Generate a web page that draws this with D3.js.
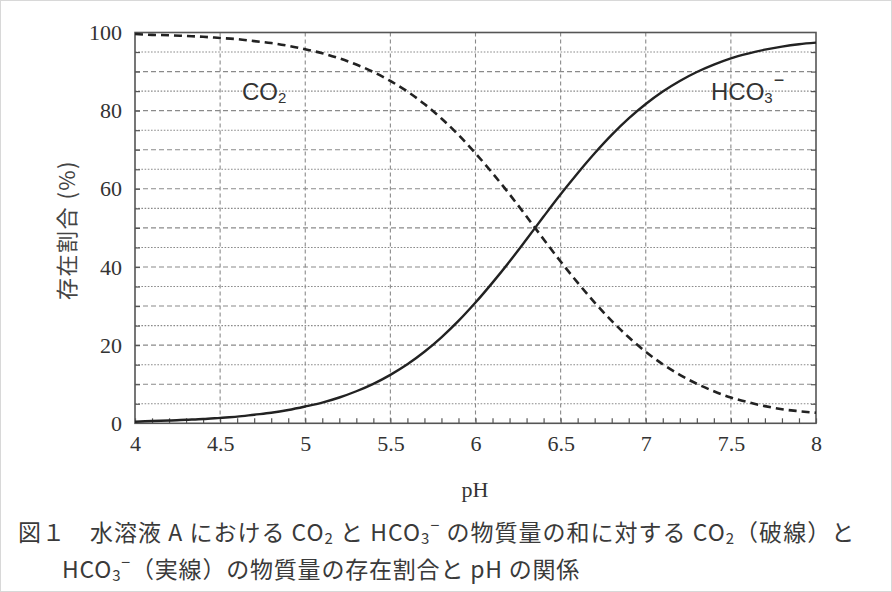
<!DOCTYPE html>
<html><head><meta charset="utf-8">
<script src="https://cdn.jsdelivr.net/npm/d3@7"></script>
<style>
html,body{margin:0;padding:0;background:#fff;}
svg{display:block;}
</style></head>
<body>
<script>
// ---- data ----
const pHValues = [4.0,4.1,4.2,4.3,4.4,4.5,4.6,4.7,4.8,4.9,5.0,5.1,5.2,5.3,5.4,5.5,5.6,5.7,5.8,5.9,6.0,6.1,6.2,6.3,6.4,6.5,6.6,6.7,6.8,6.9,7.0,7.1,7.2,7.3,7.4,7.5,7.6,7.7,7.8,7.9,8.0];
const hco3Percent = [0.4,0.6,0.7,0.9,1.1,1.4,1.7,2.2,2.7,3.4,4.3,5.3,6.6,8.2,10.1,12.4,15.1,18.3,22.0,26.2,30.9,36.0,41.4,47.1,52.9,58.6,64.0,69.1,73.8,78.0,81.7,84.9,87.6,89.9,91.8,93.4,94.6,95.6,96.4,97.0,97.4];
const co2Percent = [99.6,99.4,99.3,99.1,98.9,98.6,98.3,97.8,97.3,96.6,95.7,94.7,93.4,91.8,89.9,87.6,84.9,81.7,78.0,73.8,69.1,64.0,58.6,52.9,47.1,41.4,36.0,30.9,26.2,22.0,18.3,15.1,12.4,10.1,8.2,6.6,5.4,4.4,3.6,3.1,2.7];
const xTickLabels = [4,4.5,5,5.5,6,6.5,7,7.5,8];
const yTickLabels = [0,20,40,60,80,100];
const yGridValues = [5,10,15,20,25,30,35,40,45,50,55,60,65,70,75,80,85,90,95];
const xMinorTicks = d3.range(41).map(i => 4 + i*0.1);

const W = 892, H = 592;
const L = 135, R = 816, T = 32.5, B = 423.3;

const svg = d3.select("body").append("svg").attr("width", W).attr("height", H);
svg.append("rect").attr("x",0.5).attr("y",0.5).attr("width",W-1).attr("height",H-1)
  .attr("fill","#fff").attr("stroke","#d8d8d8");

const x = d3.scaleLinear().domain([4,8]).range([L,R]);
const y = d3.scaleLinear().domain([0,100]).range([B,T]);

const serif = "'Liberation Serif','Times New Roman',Tinos,'DejaVu Serif','Noto Serif',serif";
const sans = "'Liberation Sans',Arial,sans-serif";
const jp = "'Noto Sans CJK JP',sans-serif";

// horizontal gridlines
svg.append("g").selectAll("line").data(yGridValues).join("line")
  .attr("x1",L).attr("x2",R).attr("y1",d=>y(d)).attr("y2",d=>y(d))
  .attr("stroke","#8a8a8a").attr("stroke-width",1.1)
  .attr("stroke-dasharray", d => d%10===0 ? "5,3" : "1.6,1.6");

// vertical gridlines
svg.append("g").selectAll("line").data(xTickLabels.slice(1,-1)).join("line")
  .attr("x1",d=>x(d)).attr("x2",d=>x(d)).attr("y1",T).attr("y2",B)
  .attr("stroke","#8a8a8a").attr("stroke-width",1.1)
  .attr("stroke-dasharray","4,3");

// axes using d3 axis generators (inner ticks)
const axStyle = g => {
  g.select(".domain").remove();
  g.selectAll(".tick line").attr("stroke","#555").attr("stroke-width",1.2);
};
svg.append("g").attr("transform",`translate(0,${B})`)
  .call(d3.axisTop(x).tickValues(xMinorTicks).tickSize(5).tickFormat(""))
  .call(axStyle);
svg.append("g").attr("transform",`translate(${L},0)`)
  .call(d3.axisRight(y).tickValues(yGridValues).tickSize(5).tickFormat(""))
  .call(axStyle);
svg.append("g").attr("transform",`translate(${R},0)`)
  .call(d3.axisLeft(y).tickValues(yGridValues).tickSize(5).tickFormat(""))
  .call(axStyle);

// tick labels
const xLab = svg.append("g").attr("transform",`translate(0,${B})`)
  .call(d3.axisBottom(x).tickValues(xTickLabels).tickSize(0).tickPadding(12).tickFormat(d3.format("")));
xLab.select(".domain").remove();
xLab.attr("font-family",serif).attr("font-size",22);
xLab.selectAll("text").attr("fill","#333").style("font-family",serif);

const yLab = svg.append("g").attr("transform",`translate(${L},0)`)
  .call(d3.axisLeft(y).tickValues(yTickLabels).tickSize(0).tickPadding(13).tickFormat(d3.format("")));
yLab.select(".domain").remove();
yLab.attr("font-family",serif).attr("font-size",22);
yLab.selectAll("text").attr("fill","#333").style("font-family",serif);

// frame
svg.append("rect").attr("x",L).attr("y",T).attr("width",R-L).attr("height",B-T)
  .attr("fill","none").attr("stroke","#555").attr("stroke-width",1.6);

// curves
const ptsH = pHValues.map((p,i)=>[p,hco3Percent[i]]);
const ptsC = pHValues.map((p,i)=>[p,co2Percent[i]]);
const line = d3.line().x(d=>x(d[0])).y(d=>y(d[1])).curve(d3.curveMonotoneX);
svg.append("path").attr("d",line(ptsC)).attr("fill","none")
  .attr("stroke","#222").attr("stroke-width",2.6).attr("stroke-dasharray","8,5");
svg.append("path").attr("d",line(ptsH)).attr("fill","none")
  .attr("stroke","#222").attr("stroke-width",2.4);

// curve labels
const co2 = svg.append("text").attr("x",242).attr("y",100).attr("font-family",sans)
  .attr("font-size",24).attr("fill","#333");
co2.append("tspan").text("CO");
co2.append("tspan").attr("font-size",15).attr("dy",3).text("2");

const hco = svg.append("text").attr("x",711).attr("y",100).attr("font-family",sans)
  .attr("font-size",24).attr("fill","#333");
hco.append("tspan").text("HCO");
hco.append("tspan").attr("font-size",15).attr("dy",3).text("3");
hco.append("tspan").attr("font-size",18).attr("dy",-17).attr("dx",1).text("−");

// axis titles
svg.append("text").attr("x",475).attr("y",497).attr("text-anchor","middle")
  .style("font-family",serif).attr("font-size",22).attr("fill","#333").text("pH");
const yTitle = svg.append("text").attr("transform","translate(75,230) rotate(-90)").attr("text-anchor","middle")
  .attr("font-family",jp).attr("font-size",22).attr("fill","#444").text("存在割合 (%)");

function fitWidth(sel, target){
  const n = sel.text().length;
  const w = sel.node().getComputedTextLength();
  sel.attr("letter-spacing", ((target - w) / n).toFixed(2));
}
fitWidth(yTitle, 140);

// caption
const cap1 = svg.append("text").attr("x",18).attr("y",541).attr("font-family",jp)
  .attr("font-size",23).attr("fill","#3a3a3a");
cap1.append("tspan").text("図１　水溶液 A における CO");
cap1.append("tspan").attr("font-size",15).attr("dy",3).text("2");
cap1.append("tspan").attr("dy",-3).text(" と HCO");
cap1.append("tspan").attr("font-size",15).attr("dy",3).text("3");
cap1.append("tspan").attr("font-size",16).attr("dy",-13).text("−");
cap1.append("tspan").attr("dy",10).text(" の物質量の和に対する CO");
cap1.append("tspan").attr("font-size",15).attr("dy",3).text("2");
cap1.append("tspan").attr("dy",-3).text("（破線）と");

const cap2 = svg.append("text").attr("x",62).attr("y",578).attr("font-family",jp)
  .attr("font-size",23).attr("fill","#3a3a3a");
cap2.append("tspan").text("HCO");
cap2.append("tspan").attr("font-size",15).attr("dy",3).text("3");
cap2.append("tspan").attr("font-size",16).attr("dy",-13).text("−");
cap2.append("tspan").attr("dy",10).text("（実線）の物質量の存在割合と pH の関係");

fitWidth(cap1, 837);
fitWidth(cap2, 518);
</script>
</body></html>
